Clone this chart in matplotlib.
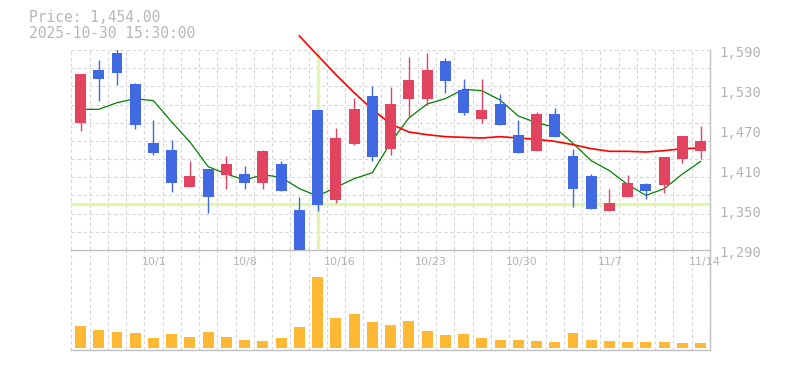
import numpy as np
import matplotlib
matplotlib.use("Agg")
import matplotlib.pyplot as plt
from matplotlib import transforms

# ---- data (daily candles, 35 sessions) ----
opens = [1480, 1560, 1586, 1539, 1451, 1440, 1385, 1412, 1403, 1404,
         1391, 1419, 1350, 1500, 1365, 1449, 1521, 1441, 1516, 1517,
         1574, 1530, 1487, 1509, 1463, 1438, 1494, 1431, 1401, 1349,
         1370, 1389, 1388, 1427, 1438]
highs = [1554, 1575, 1592, 1540, 1485, 1455, 1424, 1412, 1431, 1416,
         1440, 1424, 1370, 1500, 1473, 1518, 1536, 1535, 1580, 1586,
         1578, 1547, 1547, 1524, 1485, 1497, 1503, 1442, 1404, 1381,
         1403, 1391, 1430, 1461, 1476]
lows = [1469, 1514, 1537, 1472, 1433, 1377, 1384, 1345, 1382, 1382,
        1381, 1379, 1280, 1349, 1360, 1448, 1423, 1433, 1490, 1508,
        1526, 1492, 1481, 1477, 1436, 1438, 1459, 1354, 1352, 1349,
        1370, 1366, 1376, 1421, 1427]
closes = [1554, 1547, 1555, 1477, 1435, 1391, 1401, 1370, 1419, 1390,
          1439, 1379, 1284, 1358, 1458, 1502, 1429, 1509, 1545, 1560,
          1544, 1496, 1500, 1478, 1436, 1494, 1459, 1381, 1352, 1360,
          1391, 1378, 1430, 1461, 1454]
volumes = [220, 180, 160, 150, 100, 140, 110, 160, 110, 80,
           70, 100, 210, 710, 300, 340, 260, 230, 270, 170,
           130, 140, 100, 80, 80, 70, 60, 150, 80, 70,
           60, 60, 60, 50, 50]
ma_short = [1501, 1501, 1511, 1517, 1514, 1482, 1452, 1415, 1404, 1395,
            1403, 1399, 1382, 1371, 1384, 1397, 1406, 1451, 1488, 1509,
            1517, 1531, 1529, 1515, 1491, 1481, 1474, 1450, 1424, 1409,
            1388, 1372, 1382, 1404, 1423]
ma_long_start = 12
ma_long = [1611, 1582, 1553, 1526, 1501, 1479, 1467, 1463, 1460, 1459,
           1458, 1460, 1458, 1456, 1453, 1448, 1442, 1438, 1438, 1437,
           1439, 1442, 1443]
date_ticks = [4, 9, 14, 19, 24, 29, 34]
date_labels = ["10/1", "10/8", "10/16", "10/23", "10/30", "11/7", "11/14"]
price_ticks = [1590, 1530, 1470, 1410, 1350, 1290]
cross_idx = 13
cross_price = 1358.5

UP = "#e2445f"
DOWN = "#4169e1"
VOL = "#ffb833"
GRID = "#d6d6d6"
AXIS = "#c0c0c0"
TXT = "#b4b4b4"
CROSS = "#e2f5b0"
MONO = "DejaVu Sans Mono"

W, H = 785, 370
fig = plt.figure(figsize=(W / 100, H / 100), dpi=100)
left, right = 71.4, 709.8
ax = fig.add_axes([left / W, 120 / H, (right - left) / W, 200 / H])
axv = fig.add_axes([left / W, 20 / H, (right - left) / W, 100 / H])
ax.set_zorder(2)  # keep date labels above the volume pane
ax.patch.set_alpha(0)

n = len(closes)
x = np.arange(n)

for a in (ax, axv):
    a.set_xlim(-0.5, n - 0.5)
    a.set_xticks([])
    a.set_yticks([])
    for k in range(n + 1):
        a.axvline(k - 0.5, color=GRID, lw=0.8, ls=(0, (3, 2.5)), zorder=0)
    a.spines["left"].set_visible(False)
    a.spines["top"].set_visible(False)
    a.spines["bottom"].set_color(AXIS)
    a.spines["right"].set_color(AXIS)
    a.spines["bottom"].set_linewidth(1.0)
    a.spines["right"].set_linewidth(1.0)

ax.set_ylim(1290, 1590)
axv.set_ylim(-20, 980)

for v in np.linspace(1290, 1590, 12)[1:]:
    ax.axhline(v, color=GRID, lw=0.8, ls=(0, (3, 2.5)), zorder=0)

# crosshair
ax.axhline(cross_price, color=CROSS, lw=2.4, zorder=1)
ax.plot([cross_idx, cross_idx], [1292, 1589], color=CROSS, lw=2.4,
        solid_capstyle="butt", zorder=1)

# moving averages
ax.plot(x, ma_short, color="green", lw=0.9, zorder=2, clip_on=False)
ax.plot(x[ma_long_start:], ma_long, color="red", lw=1.2, zorder=2, clip_on=False)

# candles
o = np.array(opens)
c = np.array(closes)
colors = [UP if cc >= oo else DOWN for oo, cc in zip(o, c)]
ax.vlines(x, lows, highs, colors=colors, lw=1.0, zorder=3)
ax.bar(x, np.abs(c - o), bottom=np.minimum(o, c), width=0.6,
       color=colors, linewidth=0, zorder=4)

# volume
axv.bar(x, volumes, width=0.6, color=VOL, linewidth=0, zorder=3)

# right price labels
lab_tr = transforms.offset_copy(
    transforms.blended_transform_factory(ax.transAxes, ax.transData),
    fig=fig, x=10, y=-3.3, units="dots")
for p in price_ticks:
    ax.text(1, p, f"{p:,}", transform=lab_tr, ha="left", va="center",
            family=MONO, fontsize=10, color=TXT, clip_on=False)

# date labels
date_tr = transforms.offset_copy(
    transforms.blended_transform_factory(ax.transData, ax.transAxes),
    fig=fig, x=-12, y=-12, units="dots")
for i, s in zip(date_ticks, date_labels):
    ax.text(i, 0, s, transform=date_tr, ha="left", va="center",
            fontsize=8, color=TXT, clip_on=False, zorder=5)

# header
fig.text(29 / W, 1 - 18 / H, "Price: 1,454.00", family=MONO, fontsize=10.5,
         color="#b8b8b8", va="center", ha="left")
fig.text(29 / W, 1 - 33.5 / H, "2025-10-30 15:30:00", family=MONO,
         fontsize=10.5, color="#b8b8b8", va="center", ha="left")

fig.savefig("out.png", dpi=100)
